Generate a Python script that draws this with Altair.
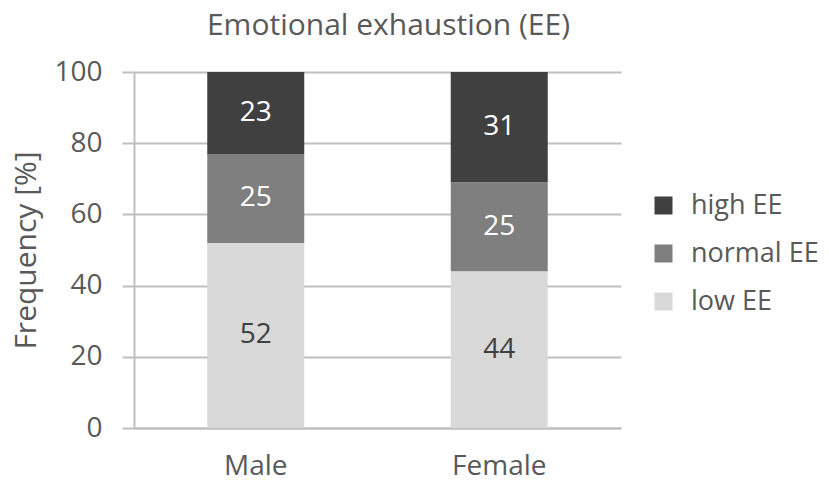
import altair as alt
import pandas as pd

sexes = ["Male", "Female"]
levels = ["low EE", "normal EE", "high EE"]
male_values = [52, 25, 23]
female_values = [44, 25, 31]
colors = ["#d9d9d9", "#7f7f7f", "#404040"]
label_colors = ["#404040", "#ffffff", "#ffffff"]

rows = []
for sex, vals in zip(sexes, [male_values, female_values]):
    for i, (lvl, v) in enumerate(zip(levels, vals)):
        rows.append({"sex": sex, "level": lvl, "value": v, "order": i,
                     "lcolor": label_colors[i]})
df = pd.DataFrame(rows)

FONT = "Open Sans"
TXT = "#595959"
GRID = "#bfbfbf"

x_enc = alt.X("sex:N", sort=sexes, title=None,
              scale=alt.Scale(paddingInner=0.6, paddingOuter=0.3),
              axis=alt.Axis(labelAngle=0, ticks=False, domainColor=GRID, domainWidth=2,
                            labelFontSize=28, labelColor=TXT, labelFont=FONT, labelPadding=24))

bars = alt.Chart(df).mark_bar(size=97).encode(
    x=x_enc,
    y=alt.Y("value:Q", stack="zero", title="Frequency [%]",
            scale=alt.Scale(domain=[0, 100]),
            axis=alt.Axis(values=[0, 20, 40, 60, 80, 100], gridColor=GRID, gridWidth=2,
                          tickColor=GRID, tickWidth=2, tickSize=12, domainColor=GRID, domainWidth=2,
                          labelFontSize=28, labelColor=TXT, labelFont=FONT, labelPadding=20,
                          titleFontSize=30, titleColor=TXT, titleFont=FONT, titleFontWeight="normal",
                          titlePadding=12)),
    color=alt.Color("level:N", sort=["high EE", "normal EE", "low EE"],
                    scale=alt.Scale(domain=["high EE", "normal EE", "low EE"],
                                    range=[colors[2], colors[1], colors[0]]),
                    legend=alt.Legend(title=None, orient="none", legendX=516, legendY=120,
                                      symbolType="square", symbolSize=324, symbolStrokeWidth=0,
                                      labelFontSize=27, labelColor=TXT, labelFont=FONT,
                                      labelOffset=14, rowPadding=20)),
    order=alt.Order("order:Q", sort="ascending"),
)

labels = alt.Chart(df).transform_stack(
    stack="value", as_=["y0", "y1"], groupby=["sex"],
    sort=[alt.SortField("order", order="ascending")]
).transform_calculate(
    mid="(datum.y0 + datum.y1) / 2"
).mark_text(font=FONT, fontSize=28, baseline="middle").encode(
    x=alt.X("sex:N", sort=sexes),
    y=alt.Y("mid:Q"),
    text=alt.Text("value:Q"),
    color=alt.Color("lcolor:N", scale=None),
)

chart = alt.layer(bars, labels).properties(
    width=487, height=356,
    title=alt.TitleParams("Emotional exhaustion (EE)", font=FONT, fontSize=30,
                          fontWeight="normal", color=TXT, anchor="middle", dx=11, offset=17),
    autosize=alt.AutoSizeParams(type="none"),
    padding={"left": 126, "top": 64, "right": 200, "bottom": 56},
).configure_view(stroke=None)

chart.save("out.html", embed_options={"renderer": "svg", "actions": False})
